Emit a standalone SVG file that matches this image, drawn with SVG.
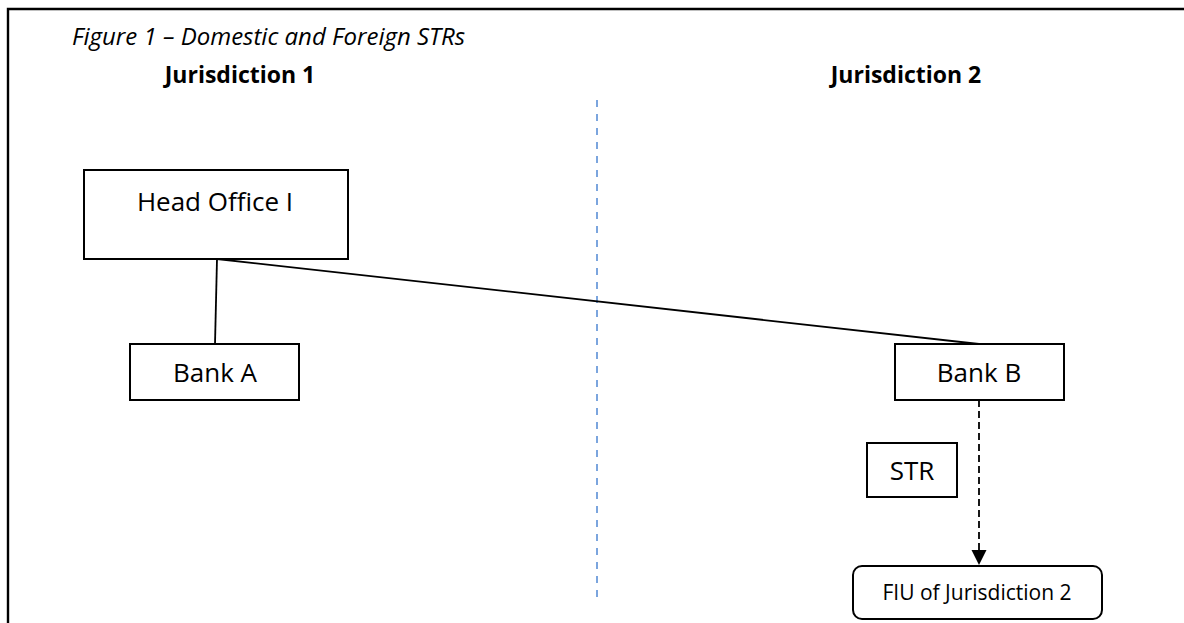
<svg xmlns="http://www.w3.org/2000/svg" width="1184" height="623" viewBox="0 0 1184 623">
<style>
  .box { fill: #fff; stroke: #000; stroke-width: 2; }
  .lbl { font-family: "Open Sans", "Liberation Sans", sans-serif; font-size: 26px; fill: #000; text-anchor: middle; }
  .hdr { font-family: "Open Sans", "Liberation Sans", sans-serif; font-size: 23px; font-weight: bold; fill: #000; text-anchor: middle; }
  .ttl { font-family: "Open Sans", "Liberation Sans", sans-serif; font-size: 24px; font-style: italic; fill: #000; }
  .conn { stroke: #000; stroke-width: 1.8; fill: none; }
</style>
<defs>
  <marker id="arr" markerUnits="userSpaceOnUse" markerWidth="16" markerHeight="16" refX="15" refY="7.5" orient="auto">
    <path d="M0,0 L15,7.5 L0,15 Z" fill="#000"/>
  </marker>
</defs>
<rect width="1184" height="623" fill="#fff"/>
<g id="frame">
  <path d="M8,623 L8,9 L1184,9" fill="none" stroke="#000" stroke-width="2.4"/>
</g>
<g id="title">
  <text class="ttl" x="72" y="45">Figure 1 – Domestic and Foreign STRs</text>
</g>
<g id="headers">
  <text class="hdr" x="240" y="83">Jurisdiction 1</text>
  <text class="hdr" x="906" y="83">Jurisdiction 2</text>
</g>
<g id="divider">
  <line x1="597" y1="100" x2="597" y2="598" stroke="#5B8FD6" stroke-width="1.6" stroke-dasharray="7 7"/>
</g>
<g id="connectors">
  <line class="conn" x1="217" y1="259" x2="215" y2="344"/>
  <line class="conn" x1="217" y1="259" x2="979" y2="344"/>
  <line class="conn" x1="979" y1="400" x2="979" y2="565" stroke-dasharray="7 4" marker-end="url(#arr)"/>
</g>
<g id="head-office">
  <rect class="box" x="84" y="170" width="264" height="89"/>
  <text class="lbl" x="215" y="211">Head Office I</text>
</g>
<g id="bank-a">
  <rect class="box" x="130" y="344" width="169" height="56"/>
  <text class="lbl" x="215" y="382">Bank A</text>
</g>
<g id="bank-b">
  <rect class="box" x="895" y="344" width="169" height="56"/>
  <text class="lbl" x="979" y="382">Bank B</text>
</g>
<g id="str">
  <rect class="box" x="867" y="443" width="90" height="54"/>
  <text class="lbl" x="912" y="480">STR</text>
</g>
<g id="fiu">
  <rect class="box" x="853" y="566" width="249" height="53" rx="9"/>
  <text class="lbl" x="977" y="600" style="font-size:21px">FIU of Jurisdiction 2</text>
</g>
</svg>
